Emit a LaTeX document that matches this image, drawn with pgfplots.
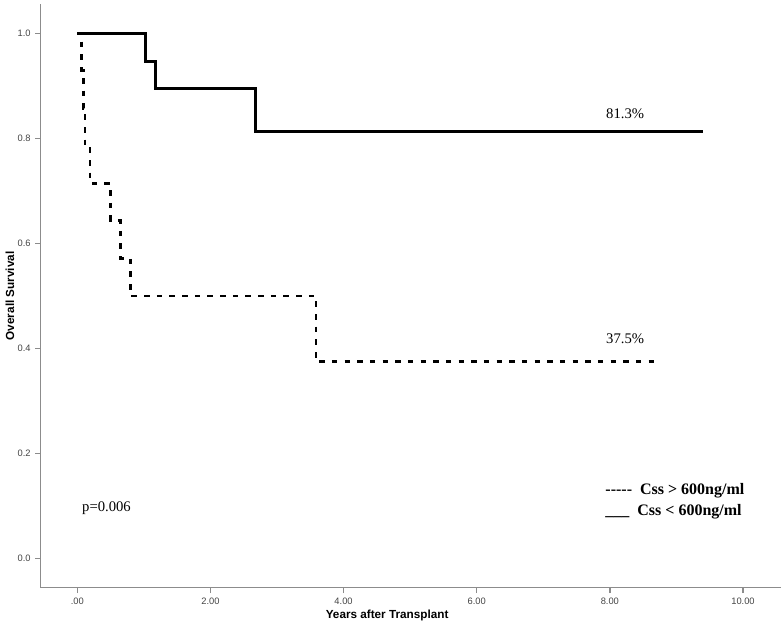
\documentclass[border=0pt]{standalone}
\usepackage{fontspec}
\setmainfont{Liberation Serif}
\setsansfont{Liberation Sans}
\usepackage{pgfplots}
\pgfplotsset{compat=1.18}
\definecolor{axgray}{HTML}{8C8C8C}
\definecolor{tickgray}{HTML}{444444}
\begin{document}
\begin{tikzpicture}
\begin{axis}[
  scale only axis=true,
  width=555.2pt, height=437.8pt,
  xmin=-0.55, xmax=10.57, ymin=-0.056, ymax=1.056,
  axis x line*=bottom, axis y line*=left,
  axis line style={draw=axgray, line width=1.1pt},
  x axis line style={-}, y axis line style={-},
  tick align=outside,
  major tick length=4pt,
  tick style={color=axgray, line width=1pt, solid},
  xtick={0,2,4,6,8,10},
  xticklabels={.00,2.00,4.00,6.00,8.00,10.00},
  ytick={0,0.2,0.4,0.6,0.8,1.0},
  yticklabels={0.0,0.2,0.4,0.6,0.8,1.0},
  tick label style={font=\sffamily\fontsize{7}{8}\selectfont, text=tickgray},
  xlabel={Years after Transplant},
  ylabel={Overall Survival},
  xlabel style={font=\sffamily\bfseries\fontsize{8.8}{10}\selectfont, at={(axis description cs:0.468,0)}, anchor=center, yshift=-21pt},
  ylabel style={font=\sffamily\bfseries\fontsize{8.8}{10}\selectfont, at={(axis description cs:-0.0415,0.5)}, anchor=center},
  clip=false,
]
\addplot[const plot, line width=2pt, dash pattern=on 4.2pt off 5.3pt, black] coordinates {
  (0,1) (0.066,0.929) (0.09,0.857) (0.116,0.786) (0.19,0.714) (0.50,0.643) (0.65,0.571) (0.80,0.5) (3.585,0.375) (8.68,0.375)
};
\addplot[const plot, line width=2pt, black] coordinates {
  (0,1) (1.02,0.947) (1.17,0.895) (2.68,0.813) (9.40,0.813)
};
\pgfplotsinvokeforeach{0,2,4,6,8,10}{
  \draw[axgray, line width=0.9pt] (axis cs:#1,-0.056) -- ++(0pt,-3.5pt);
}
\pgfplotsinvokeforeach{0,0.2,0.4,0.6,0.8,1.0}{
  \draw[axgray, line width=0.9pt] (axis cs:-0.55,#1) -- ++(-3.5pt,0pt);
}
\node[font=\fontsize{11}{13}\selectfont] at (axis cs:8.23,0.847) {81.3\%};
\node[font=\fontsize{11}{13}\selectfont] at (axis cs:8.23,0.419) {37.5\%};
\node[font=\fontsize{11}{13}\selectfont, anchor=west, inner sep=0pt] at (axis cs:0.07,0.096) {p=0.006};
\node[font=\bfseries\fontsize{12}{14}\selectfont, anchor=west, inner sep=0pt] at (axis cs:7.93,0.128) {-{}-{}-{}-{}-\ \ Css > 600ng/ml};
\node[font=\bfseries\fontsize{12}{14}\selectfont, anchor=west, inner sep=0pt] at (axis cs:7.93,0.088) {\_\_\_\ \ Css < 600ng/ml};
\end{axis}
\pgfresetboundingbox
\path[use as bounding box] (-30.5pt,-28.7pt) rectangle (557.5pt,440.8pt);
\end{tikzpicture}
\end{document}
